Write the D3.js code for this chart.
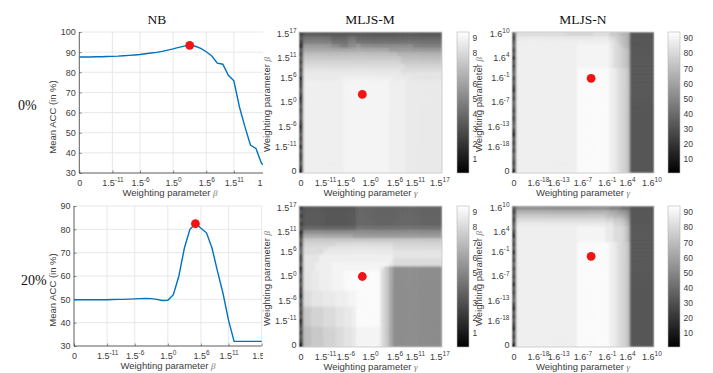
<!DOCTYPE html>
<html>
<head>
<meta charset="utf-8">
<script src="https://cdn.jsdelivr.net/npm/d3@7"></script>
<style>
  body { margin: 0; background: #fff; }
</style>
</head>
<body>
<svg id="fig" width="713" height="373" font-family="Liberation Sans, Arial, sans-serif"></svg>
<script>
// ---------- data ----------
// NB: mean accuracy per beta index (0 = "0", 1..34 = 1.5^-16 .. 1.5^17)
const nbAcc0 = [87.6, 87.6, 87.6, 87.7, 87.7, 87.8, 87.9, 88.0, 88.2, 88.4, 88.6, 88.8,
  89.2, 89.6, 89.9, 90.4, 91.0, 91.6, 92.4, 93.0, 93.4, 92.9, 91.9, 90.2, 88.1, 84.5,
  84.0, 78.5, 75.8, 62.9, 53.0, 43.9, 42.2, 34.8, 33.0];
const nbAcc20 = [49.8, 49.8, 49.8, 49.8, 49.8, 49.8, 49.8, 49.9, 50.0, 50.0, 50.1, 50.2,
  50.3, 50.4, 50.3, 50.0, 49.5, 49.6, 52.0, 60.0, 72.0, 80.0, 82.4, 80.5, 78.5, 72.0,
  62.0, 52.5, 41.0, 32.0, 32.0, 32.0, 32.0, 32.0, 32.0];
const nbBest0 = 20;
const nbBest20 = 22;

const tickIdx = [0, 6, 11, 17, 23, 28, 34];
const expM = [null, -11, -6, 0, 6, 11, 17];     // base 1.5, first tick is "0"
const expN = [null, -18, -13, -7, -1, 4, 10];   // base 1.6, first tick is "0"
const accTicks0 = [30, 40, 50, 60, 70, 80, 90, 100];
const accTicks20 = [30, 40, 50, 60, 70, 80, 90];
const cbTicks = [10, 20, 30, 40, 50, 60, 70, 80, 90];
const cbRange = [0.7, 94];

// grey level codes used in the grids below
const shade = {
  "0": 1, "1": 12, "2": 22, "3": 32, "4": 37, "5": 42, "6": 47, "7": 52, "8": 57,
  "9": 62, a: 66, b: 70, c: 74, d: 78, e: 81, f: 84, g: 86, h: 88, i: 90, j: 92, k: 94
};

// heatmaps: first column (gamma = 0) top->bottom, then rows top->bottom as
// [repeat, "code:count ..."] for gamma columns 1..34
const mljsM0Edge = "23213232323122321232332123231322320";
const mljsM0Body = [
  [1, "3:34"],
  [1, "5:7 4:4 5:2 4:21"],
  [1, "6:7 5:4 6:2 5:21"],
  [1, "8:7 7:2 6:2 7:2 8:1 7:13 6:7"],
  [1, "9:21 8:13"],
  [1, "b:23 a:11"],
  [1, "c:24 b:10"],
  [1, "d:24 c:10"],
  [1, "e:25 d:9"],
  [1, "f:24 e:10"],
  [1, "g:24 f:10"],
  [1, "g:9 h:13 g:4 f:8"],
  [23, "h:10 i:11 h:4 g:9"]
];
const mljsN0Edge = "32342313234232132432323421323243230";
const mljsN0Body = [
  [1, "e:12 d:7 e:4 c:2 b:1 a:2 3:6"],
  [1, "g:23 e:1 d:1 c:1 b:1 a:1 3:6"],
  [1, "h:23 f:1 e:1 c:1 b:1 a:1 3:6"],
  [1, "h:15 i:8 g:1 e:1 d:1 b:1 a:1 3:6"],
  [5, "h:15 i:8 g:1 e:1 d:1 c:1 b:1 3:6"],
  [26, "h:15 j:8 h:1 g:1 e:1 d:1 c:1 3:6"]
];
const mljsM20Edge = "23232312323422312323221323231232320";
const mljsM20Body = [
  [5, "3:13 4:21"],
  [1, "4:13 5:21"],
  [1, "7:34"],
  [1, "9:12 8:22"],
  [1, "c:34"],
  [1, "d:8 e:14 d:12"],
  [1, "e:6 f:16 e:12"],
  [1, "e:5 g:17 f:12"],
  [1, "f:4 h:18 f:12"],
  [1, "f:4 h:18 e:12"],
  [1, "f:3 h:4 i:14 g:1 e:12"],
  [1, "f:3 h:4 i:12 f:1 c:1 9:1 7:12"],
  [5, "f:2 g:2 h:3 i:3 j:9 e:1 c:1 9:1 7:12"],
  [4, "e:2 f:3 g:3 h:3 i:2 j:6 e:1 c:1 9:1 7:12"],
  [5, "c:2 d:3 e:3 f:2 g:2 h:1 j:6 e:1 c:1 9:1 7:12"],
  [5, "b:2 c:3 d:3 e:2 f:2 g:1 i:6 e:1 c:1 9:1 7:12"]
];
const mljsN20Edge = "32323421323132423231323421323213230";
const mljsN20Body = [
  [1, "7:23 6:3 5:2 3:6"],
  [1, "a:23 9:2 8:2 7:1 3:6"],
  [1, "c:22 b:2 a:2 9:1 8:1 3:6"],
  [1, "e:22 d:2 c:2 b:1 9:1 3:6"],
  [1, "g:22 f:2 d:2 c:1 a:1 3:6"],
  [4, "h:15 i:7 g:2 e:2 d:1 b:1 3:6"],
  [26, "h:15 j:8 h:1 g:1 e:1 d:1 c:1 3:6"]
];
// best (gamma index, beta index from bottom)
const bestM0 = [15, 19];
const bestM20 = [15, 17];
const bestN0 = [19, 23];
const bestN20 = [19, 22];

// ---------- helpers ----------
const svg = d3.select("#fig");
const defs = svg.append("defs");
const grey = d3.scaleLinear().domain(cbRange).range(["#000", "#fff"]).clamp(true);
const sans = "Liberation Sans, Arial, sans-serif";
const serif = "Liberation Serif, Times New Roman, serif";
const textCol = "#3c3c3c";

function makeClip(id, x, y, w, h) {
  defs.append("clipPath").attr("id", id)
    .append("rect").attr("x", x).attr("y", y).attr("width", w).attr("height", h);
}
makeClip("clipCol1", 0, 0, 263, 373);
makeClip("clipCol2", 0, 0, 477, 373);

// soft look of the original bitmap
defs.append("filter").attr("id", "soft").attr("x", -0.05).attr("y", -0.05)
  .attr("width", 1.1).attr("height", 1.1)
  .append("feGaussianBlur").attr("stdDeviation", 1.0);

function decodeGrid(edge, body) {
  const rows = [];
  body.forEach(([rep, rle]) => {
    for (let k = 0; k < rep; k++) {
      const cells = [edge[rows.length]];
      rle.split(" ").forEach(tok => {
        const [c, n] = tok.split(":");
        for (let m = 0; m < +n; m++) cells.push(c);
      });
      while (cells.length < 35) cells.push(cells[cells.length - 1]);
      rows.push(cells.slice(0, 35).map(c => shade[c]));
    }
  });
  return rows; // rows[0] is the top row
}

function powLabel(sel, base, exps) {
  sel.each(function (d, i) {
    const t = d3.select(this).text(null);
    const e = exps[i];
    if (e === null) { t.append("tspan").text("0"); return; }
    t.append("tspan").text(base);
    t.append("tspan").attr("dy", -3.8).attr("font-size", 6.5).text(e);
  });
}

function greekLabel(t, main, sym) {
  t.append("tspan").text(main);
  t.append("tspan").attr("font-family", serif)
    .attr("font-style", "italic").attr("font-size", 9).attr("fill", "#777").text(sym);
}

function styleAxis(ax) {
  ax.attr("font-family", sans).attr("font-size", 9);
  ax.select(".domain").remove();
  ax.selectAll(".tick line").attr("stroke", "#444").attr("stroke-width", 0.6);
  ax.selectAll("text").attr("fill", textCol);
}

// ---------- NB line panels ----------
function nbPanel(parent, o) {
  const g = parent.append("g");
  const x = d3.scaleLinear().domain([0, 34]).range([o.x0, o.x0 + 34 * 5.52]);
  const y = d3.scaleLinear().domain([30, o.yMax]).range([o.y1, o.y0]);

  g.append("g").selectAll("line").data(tickIdx.slice(1)).join("line")
    .attr("x1", d => x(d)).attr("x2", d => x(d)).attr("y1", o.y0).attr("y2", o.y1)
    .attr("stroke", "#e2e2e2").attr("stroke-width", 0.8);
  g.append("g").selectAll("line").data(o.yTicks.slice(1)).join("line")
    .attr("x1", o.x0).attr("x2", x(34)).attr("y1", d => y(d)).attr("y2", d => y(d))
    .attr("stroke", "#e2e2e2").attr("stroke-width", 0.8);

  const ax = g.append("g").attr("transform", `translate(0,${o.y1})`)
    .call(d3.axisBottom(x).tickValues(tickIdx).tickSize(-2.5).tickPadding(6.5));
  styleAxis(ax);
  powLabel(ax.selectAll(".tick text"), "1.5", expM);

  const ay = g.append("g").attr("transform", `translate(${o.x0},0)`)
    .call(d3.axisLeft(y).tickValues(o.yTicks).tickSize(-2.5).tickPadding(3.5));
  styleAxis(ay);

  g.append("line").attr("x1", o.x0).attr("x2", o.x0).attr("y1", o.y0).attr("y2", o.y1)
    .attr("stroke", "#333").attr("stroke-width", 0.8);
  g.append("line").attr("x1", o.x0).attr("x2", x(34)).attr("y1", o.y1).attr("y2", o.y1)
    .attr("stroke", "#333").attr("stroke-width", 0.8);

  g.append("path").datum(o.data)
    .attr("fill", "none").attr("stroke", "#0072BD").attr("stroke-width", 1.4)
    .attr("d", d3.line().x((d, i) => x(i)).y(d => y(d)));
  g.append("circle").attr("cx", x(o.best)).attr("cy", y(o.data[o.best]))
    .attr("r", 4.4).attr("fill", "#f01414");

  const xl = g.append("text").attr("x", o.xLabelX).attr("y", o.y1 + 23)
    .attr("text-anchor", "middle").attr("font-size", 9.5).attr("fill", textCol);
  greekLabel(xl, "Weighting parameter ", "β");
  g.append("text")
    .attr("transform", `translate(${o.yLabelX},${o.yLabelY}) rotate(-90)`)
    .attr("text-anchor", "middle").attr("font-size", 9.5).attr("fill", textCol)
    .text("Mean ACC (in %)");
}

// ---------- heatmap panels ----------
function heatPanel(parent, o) {
  const g = parent.append("g");
  const rows = decodeGrid(o.edge, o.body);
  const x = d3.scaleBand().domain(d3.range(35)).range([o.x0, o.x1]);
  const y = d3.scaleBand().domain(d3.range(35)).range([o.y1, o.y0]);

  makeClip("clip" + o.id, o.x0, o.y0, o.x1 - o.x0, o.y1 - o.y0);
  const cells = g.append("g").attr("clip-path", `url(#clip${o.id})`)
    .append("g").attr("filter", "url(#soft)");
  rows.forEach((row, r) => {
    cells.append("g").selectAll("rect").data(row).join("rect")
      .attr("x", (d, c) => x(c)).attr("y", y(34 - r))
      .attr("width", x.bandwidth() + 0.4).attr("height", y.bandwidth() + 0.4)
      .attr("fill", d => grey(d));
  });
  g.append("rect").attr("x", o.x0).attr("y", o.y0)
    .attr("width", o.x1 - o.x0).attr("height", o.y1 - o.y0)
    .attr("fill", "none").attr("stroke", "#b0b0b0").attr("stroke-width", 0.6);

  g.append("circle").attr("cx", x(o.best[0]) + x.bandwidth() / 2)
    .attr("cy", y(o.best[1]) + y.bandwidth() / 2).attr("r", 4.4).attr("fill", "#f01414");

  const ax = g.append("g").attr("transform", `translate(0,${o.y1})`)
    .call(d3.axisBottom(x).tickValues(tickIdx).tickSize(0).tickPadding(6.5));
  styleAxis(ax);
  powLabel(ax.selectAll(".tick text"), o.base, o.exps);

  const ay = g.append("g").attr("transform", `translate(${o.x0},0)`)
    .call(d3.axisLeft(y).tickValues(tickIdx).tickSize(0).tickPadding(2.5));
  styleAxis(ay);
  powLabel(ay.selectAll(".tick text"), o.base, o.exps);

  const xl = g.append("text").attr("x", (o.x0 + o.x1) / 2).attr("y", o.y1 + 23)
    .attr("text-anchor", "middle").attr("font-size", 9.5).attr("fill", textCol);
  greekLabel(xl, "Weighting parameter ", "γ");
  const yl = g.append("text")
    .attr("transform", `translate(${o.yLabelX},${(o.y0 + o.y1) / 2 + 2}) rotate(-90)`)
    .attr("text-anchor", "middle").attr("font-size", 9.5).attr("fill", textCol);
  greekLabel(yl, "Weighting parameter ", "β");

  // colorbar
  const cy = d3.scaleLinear().domain(cbRange).range([o.y1, o.y0]);
  const gid = "grad" + o.id;
  const grad = defs.append("linearGradient").attr("id", gid)
    .attr("x1", 0).attr("y1", 1).attr("x2", 0).attr("y2", 0);
  grad.append("stop").attr("offset", 0).attr("stop-color", grey(cbRange[0]));
  grad.append("stop").attr("offset", 1).attr("stop-color", grey(cbRange[1]));
  g.append("rect").attr("x", o.cbX).attr("y", o.y0).attr("width", 12)
    .attr("height", o.y1 - o.y0).attr("fill", `url(#${gid})`)
    .attr("stroke", "#b5b5b5").attr("stroke-width", 0.6);
  const ac = g.append("g").attr("transform", `translate(${o.cbX + 12},0)`)
    .call(d3.axisRight(cy).tickValues(cbTicks).tickSize(0).tickPadding(3.5));
  styleAxis(ac);
  ac.attr("font-size", 8.5);
}

// ---------- layout ----------
const col1 = svg.append("g").attr("clip-path", "url(#clipCol1)");
const col2 = svg.append("g").attr("clip-path", "url(#clipCol2)");
const col3 = svg.append("g");

nbPanel(col1, { x0: 79.3, y0: 32, y1: 173, yMax: 100, yTicks: accTicks0, data: nbAcc0,
  best: nbBest0, xLabelX: 170, yLabelX: 56, yLabelY: 117 });
nbPanel(col1, { x0: 74, y0: 206, y1: 346, yMax: 90, yTicks: accTicks20, data: nbAcc20,
  best: nbBest20, xLabelX: 168, yLabelX: 56, yLabelY: 290 });

heatPanel(col2, { id: "m0", x0: 299, x1: 442, y0: 32, y1: 173, edge: mljsM0Edge, body: mljsM0Body,
  best: bestM0, base: "1.5", exps: expM, yLabelX: 269.5, cbX: 457 });
heatPanel(col2, { id: "m20", x0: 299, x1: 442, y0: 206, y1: 347, edge: mljsM20Edge, body: mljsM20Body,
  best: bestM20, base: "1.5", exps: expM, yLabelX: 269.5, cbX: 457 });
heatPanel(col3, { id: "n0", x0: 512, x1: 654, y0: 32, y1: 173, edge: mljsN0Edge, body: mljsN0Body,
  best: bestN0, base: "1.6", exps: expN, yLabelX: 482, cbX: 668 });
heatPanel(col3, { id: "n20", x0: 512, x1: 654, y0: 206, y1: 347, edge: mljsN20Edge, body: mljsN20Body,
  best: bestN20, base: "1.6", exps: expN, yLabelX: 482, cbX: 668 });

// titles and row labels
[["NB", 157], ["MLJS-M", 370], ["MLJS-N", 583]].forEach(([t, cx]) => {
  svg.append("text").attr("x", cx).attr("y", 24).attr("text-anchor", "middle")
    .attr("font-family", serif).attr("font-size", 13.5).attr("fill", "#111").text(t);
});
[["0%", 18, 110], ["20%", 21, 285]].forEach(([t, lx, ly]) => {
  svg.append("text").attr("x", lx).attr("y", ly)
    .attr("font-family", serif).attr("font-size", 14).attr("fill", "#111").text(t);
});
</script>
</body>
</html>
